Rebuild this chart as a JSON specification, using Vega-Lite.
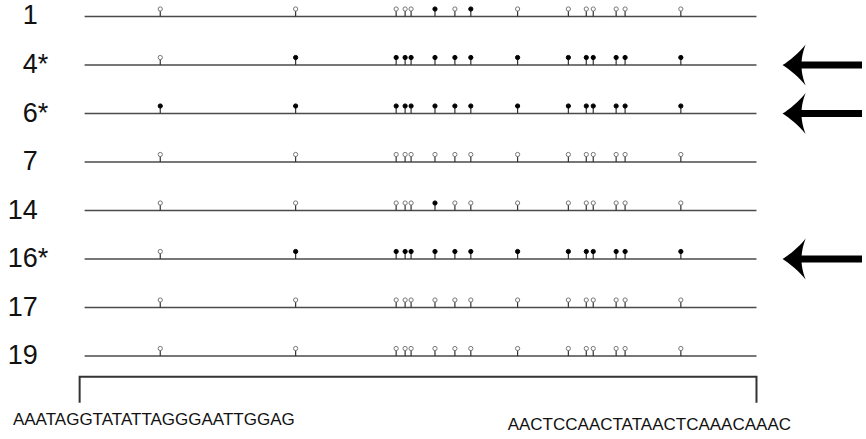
{
  "$schema": "https://vega.github.io/schema/vega-lite/v6.json",
  "width": 866,
  "height": 439,
  "autosize": {"type": "fit", "contains": "padding"},
  "padding": 0,
  "background": "white",
  "view": {"stroke": null},
  "config": {"font": "Liberation Sans"},
  "datasets": {
    "clones": [
      {"clone": "1", "star": false, "row": 1, "start": 0, "end": 675, "pos": [76,212,313,322,328,352,372,388,435,486,504,511,534,543,599], "m": [0,0,0,0,0,1,0,1,0,0,0,0,0,0,0]},
      {"clone": "4", "star": true, "row": 2, "start": 0, "end": 675, "pos": [76,212,313,322,328,352,372,388,435,486,504,511,534,543,599], "m": [0,1,1,1,1,1,1,1,1,1,1,1,1,1,1]},
      {"clone": "6", "star": true, "row": 3, "start": 0, "end": 675, "pos": [76,212,313,322,328,352,372,388,435,486,504,511,534,543,599], "m": [1,1,1,1,1,1,1,1,1,1,1,1,1,1,1]},
      {"clone": "7", "star": false, "row": 4, "start": 0, "end": 675, "pos": [76,212,313,322,328,352,372,388,435,486,504,511,534,543,599], "m": [0,0,0,0,0,0,0,0,0,0,0,0,0,0,0]},
      {"clone": "14", "star": false, "row": 5, "start": 0, "end": 675, "pos": [76,212,313,322,328,352,372,388,435,486,504,511,534,543,599], "m": [0,0,0,0,0,1,0,0,0,0,0,0,0,0,0]},
      {"clone": "16", "star": true, "row": 6, "start": 0, "end": 675, "pos": [76,212,313,322,328,352,372,388,435,486,504,511,534,543,599], "m": [0,1,1,1,1,1,1,1,1,1,1,1,1,1,1]},
      {"clone": "17", "star": false, "row": 7, "start": 0, "end": 675, "pos": [76,212,313,322,328,352,372,388,435,486,504,511,534,543,599], "m": [0,0,0,0,0,0,0,0,0,0,0,0,0,0,0]},
      {"clone": "19", "star": false, "row": 8, "start": 0, "end": 675, "pos": [76,212,313,322,328,352,372,388,435,486,504,511,534,543,599], "m": [0,0,0,0,0,0,0,0,0,0,0,0,0,0,0]}
    ],
    "bracket": [
      {"o": 1, "x": -5, "y": 8.942},
      {"o": 2, "x": -5, "y": 8.427},
      {"o": 3, "x": 675, "y": 8.427},
      {"o": 4, "x": 675, "y": 8.942}
    ],
    "primers": [
      {"seq": "AAATAGGTATATTAGGGAATTGGAG", "x": -72, "y": 9.32},
      {"seq": "AACTCCAACTATAACTCAAACAAAC", "x": 425, "y": 9.423}
    ]
  },
  "layer": [
    {
      "data": {"name": "clones"},
      "mark": {"type": "rule", "color": "#4a4a4a", "strokeWidth": 1.6},
      "encoding": {
        "x": {"field": "start", "type": "quantitative", "scale": {"domain": [-85, 781], "nice": false, "zero": false}, "axis": null},
        "x2": {"field": "end"},
        "y": {"field": "row", "type": "quantitative", "scale": {"domain": [0.6598, 9.7113], "reverse": true, "nice": false, "zero": false}, "axis": null}
      }
    },
    {
      "data": {"name": "clones"},
      "transform": [{"flatten": ["pos", "m"]}],
      "mark": {"type": "rule", "color": "#333", "strokeWidth": 1.2, "y2Offset": -6},
      "encoding": {
        "x": {"field": "pos", "type": "quantitative", "scale": {"domain": [-85, 781], "nice": false, "zero": false}, "axis": null},
        "y": {"field": "row", "type": "quantitative", "scale": {"domain": [0.6598, 9.7113], "reverse": true, "nice": false, "zero": false}, "axis": null},
        "y2": {"field": "row"}
      }
    },
    {
      "data": {"name": "clones"},
      "transform": [{"flatten": ["pos", "m"]}],
      "mark": {"type": "point", "shape": "circle", "size": 18, "strokeWidth": 1, "opacity": 1, "yOffset": -7.5},
      "encoding": {
        "x": {"field": "pos", "type": "quantitative", "scale": {"domain": [-85, 781], "nice": false, "zero": false}, "axis": null},
        "y": {"field": "row", "type": "quantitative", "scale": {"domain": [0.6598, 9.7113], "reverse": true, "nice": false, "zero": false}, "axis": null},
        "fill": {"field": "m", "type": "nominal", "scale": {"domain": [0, 1], "range": ["#ffffff", "#000000"]}, "legend": null},
        "stroke": {"field": "m", "type": "nominal", "scale": {"domain": [0, 1], "range": ["#777777", "#000000"]}, "legend": null}
      }
    },
    {
      "data": {"name": "clones"},
      "mark": {"type": "text", "align": "right", "baseline": "middle", "fontSize": 27, "font": "Liberation Sans", "color": "#111"},
      "encoding": {
        "x": {"datum": -47, "type": "quantitative", "scale": {"domain": [-85, 781], "nice": false, "zero": false}, "axis": null},
        "y": {"field": "row", "type": "quantitative", "scale": {"domain": [0.6598, 9.7113], "reverse": true, "nice": false, "zero": false}, "axis": null},
        "text": {"field": "clone"}
      }
    },
    {
      "data": {"name": "clones"},
      "transform": [{"filter": "datum.star"}],
      "mark": {"type": "text", "align": "left", "baseline": "middle", "fontSize": 27, "font": "Liberation Sans", "color": "#111"},
      "encoding": {
        "x": {"datum": -47, "type": "quantitative", "scale": {"domain": [-85, 781], "nice": false, "zero": false}, "axis": null},
        "y": {"field": "row", "type": "quantitative", "scale": {"domain": [0.6598, 9.7113], "reverse": true, "nice": false, "zero": false}, "axis": null},
        "text": {"value": "*"}
      }
    },
    {
      "data": {"name": "clones"},
      "transform": [{"filter": "datum.star"}],
      "mark": {"type": "rule", "color": "#000", "strokeWidth": 7},
      "encoding": {
        "x": {"datum": 718, "type": "quantitative", "scale": {"domain": [-85, 781], "nice": false, "zero": false}, "axis": null},
        "x2": {"datum": 781},
        "y": {"field": "row", "type": "quantitative", "scale": {"domain": [0.6598, 9.7113], "reverse": true, "nice": false, "zero": false}, "axis": null}
      }
    },
    {
      "data": {"name": "clones"},
      "transform": [{"filter": "datum.star"}],
      "mark": {"type": "point", "filled": true, "color": "#000", "opacity": 1, "strokeWidth": 0, "size": 1700, "shape": "M -0.62 0 C -0.3 -0.2 0.2 -0.6 0.5 -1 C 0.35 -0.6 0.3 -0.3 0.3 0 C 0.3 0.3 0.35 0.6 0.5 1 C 0.2 0.6 -0.3 0.2 -0.62 0 Z"},
      "encoding": {
        "x": {"datum": 714, "type": "quantitative", "scale": {"domain": [-85, 781], "nice": false, "zero": false}, "axis": null},
        "y": {"field": "row", "type": "quantitative", "scale": {"domain": [0.6598, 9.7113], "reverse": true, "nice": false, "zero": false}, "axis": null}
      }
    },
    {
      "data": {"name": "bracket"},
      "mark": {"type": "line", "color": "#333", "strokeWidth": 2, "strokeCap": "square"},
      "encoding": {
        "x": {"field": "x", "type": "quantitative", "scale": {"domain": [-85, 781], "nice": false, "zero": false}, "axis": null},
        "y": {"field": "y", "type": "quantitative", "scale": {"domain": [0.6598, 9.7113], "reverse": true, "nice": false, "zero": false}, "axis": null},
        "order": {"field": "o"}
      }
    },
    {
      "data": {"name": "primers"},
      "mark": {"type": "text", "align": "left", "baseline": "middle", "fontSize": 17, "font": "Liberation Sans", "color": "#111"},
      "encoding": {
        "x": {"field": "x", "type": "quantitative", "scale": {"domain": [-85, 781], "nice": false, "zero": false}, "axis": null},
        "y": {"field": "y", "type": "quantitative", "scale": {"domain": [0.6598, 9.7113], "reverse": true, "nice": false, "zero": false}, "axis": null},
        "text": {"field": "seq"}
      }
    }
  ]
}
